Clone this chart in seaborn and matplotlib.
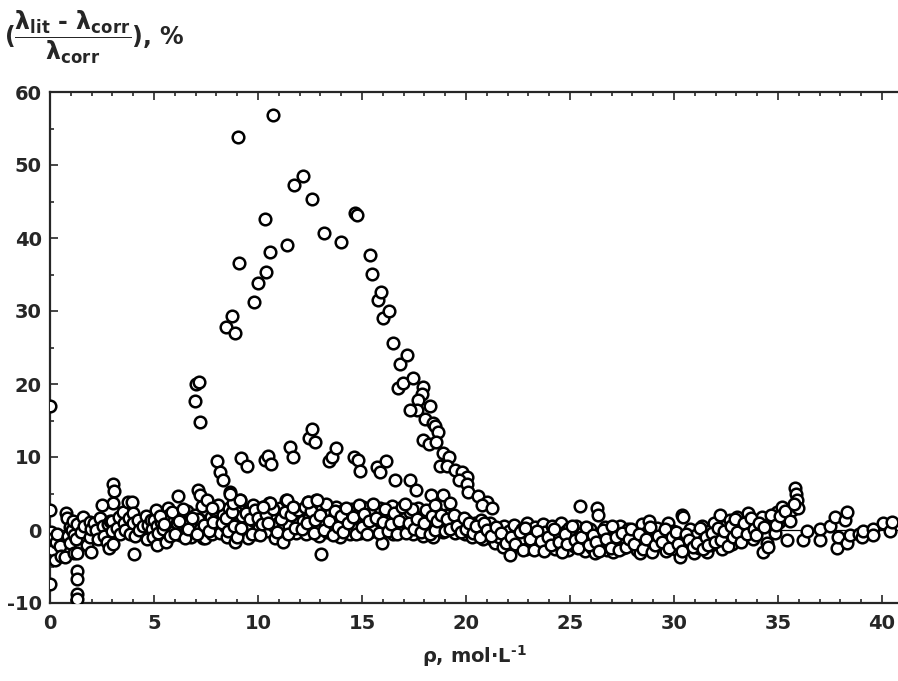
import matplotlib
matplotlib.use("Agg")
import matplotlib.pyplot as plt
from matplotlib.ticker import MultipleLocator
import seaborn as sns
import pandas as pd

# ---------------- data ----------------
upper_rho = [6.97, 7.02, 7.18, 7.21, 8.46, 8.73, 8.89, 9.02, 9.10, 9.81, 10.02, 10.32, 10.38,
             10.58, 10.74, 11.38, 11.73, 12.18, 12.61, 13.17, 13.98, 14.65, 14.78, 15.38, 15.46,
             15.75, 15.91, 16.02, 16.30, 16.50, 16.83, 17.18, 16.75, 16.99, 17.47, 17.95, 17.87,
             17.71, 18.27, 17.66, 17.31, 18.03, 18.43, 18.51, 18.67, 17.95, 18.24, 18.56, 18.91,
             19.20, 18.75, 19.07, 19.47, 19.79, 20.06, 19.68, 20.03, 20.11, 20.59, 21.02, 20.75,
             21.23]
upper_dev = [17.7, 20.0, 20.3, 14.8, 27.8, 29.3, 27.0, 53.9, 36.6, 31.2, 33.8, 42.6, 35.3,
             38.1, 56.9, 39.0, 47.2, 48.5, 45.4, 40.7, 39.5, 43.4, 43.1, 37.7, 35.1,
             31.5, 32.6, 29.1, 30.0, 25.6, 22.8, 24.0, 19.5, 20.1, 20.8, 19.6, 18.6,
             17.8, 17.0, 16.5, 16.4, 15.2, 14.6, 14.2, 13.4, 12.3, 11.8, 12.1, 10.5,
             10.0, 8.8, 8.7, 8.2, 8.0, 7.2, 6.8, 6.3, 5.2, 4.6, 3.9, 3.4,
             3.0]

middle_rho = [6.17, 7.13, 7.21, 7.53, 7.77, 8.01, 8.17, 8.33, 8.65, 8.81, 9.13, 9.17, 9.46,
              10.34, 10.50, 10.61, 11.54, 11.70, 12.47, 12.58, 12.74, 13.43, 13.54, 13.75, 14.62,
              14.82, 14.90, 15.70, 15.87, 16.15, 16.59, 17.31, 17.60, 17.07, 18.30, 18.90, 19.23,
              18.50, 12.42, 12.82, 11.38, 11.70, 10.58, 10.26, 8.65]
middle_dev = [4.6, 5.5, 4.8, 4.1, 3.0, 9.4, 8.0, 6.9, 5.2, 3.7, 4.1, 9.8, 8.7,
              9.6, 10.1, 9.1, 11.4, 10.0, 12.6, 13.8, 12.1, 9.5, 10.0, 11.3, 10.0,
              9.6, 8.1, 8.6, 7.9, 9.5, 6.8, 6.8, 5.5, 3.6, 4.8, 4.8, 3.7,
              3.4, 3.9, 4.1, 4.1, 3.2, 3.7, 3.2, 5.0]

outlier_rho = [0.0, 0.0, 0.0, 1.28, 1.28, 1.28, 1.28, 4.05, 13.05, 3.04, 3.10, 3.04, 2.48]
outlier_dev = [17.0, 2.8, -7.4, -5.6, -6.7, -8.7, -9.5, -3.3, -3.3, 6.3, 5.3, 3.7, 3.4]

band_rho = [
    0.05, 0.10, 0.15, 0.25, 0.30, 0.35, 0.50, 0.55, 0.70, 0.75, 0.80, 0.85, 0.95, 0.95,
    1.05, 1.10, 1.15, 1.15, 1.25, 1.30, 1.30, 1.50, 1.60, 1.65, 1.80, 1.90, 1.90, 1.95, 1.95,
    2.10, 2.20, 2.30, 2.40, 2.55, 2.60, 2.75, 2.85, 2.80, 2.90, 3.00, 3.00,
    3.05, 3.20, 3.30, 3.35, 3.50, 3.55, 3.60, 3.75, 3.80, 3.85, 3.95, 4.00, 4.00,
    4.10, 4.25, 4.30, 4.45, 4.60, 4.65, 4.70, 4.85, 4.90, 4.95, 5.00, 5.10,
    5.15, 5.20, 5.15, 5.35, 5.45, 5.60, 5.65, 5.70, 5.80, 5.90, 5.95,
    6.05, 6.10, 6.25, 6.30, 6.45, 6.55, 6.60, 6.70, 6.80, 6.90, 6.95,
    7.10, 7.20, 7.35, 7.45, 7.50, 7.60, 7.75, 7.80, 7.90, 7.95,
    8.05, 8.15, 8.30, 8.40, 8.50, 8.60, 8.70, 8.80, 8.90, 8.95,
    9.05, 9.15, 9.25, 9.35, 9.50, 9.55, 9.65, 9.75, 9.80, 9.90, 9.95,
    10.05, 10.15, 10.25, 10.30, 10.45, 10.55, 10.60, 10.75, 10.80, 10.85, 10.95,
    11.05, 11.15, 11.20, 11.35, 11.40, 11.50, 11.70, 11.75, 11.85, 11.95,
    12.05, 12.15, 12.30, 12.40, 12.45, 12.60, 12.80, 12.85, 12.90, 12.95,
    13.10, 13.20, 13.30, 13.45, 13.50, 13.65, 13.75, 13.80, 13.94, 13.95,
    14.05, 14.15, 14.30, 14.40, 14.50, 14.60, 14.75, 14.80, 14.90, 14.95,
    15.05, 15.15, 15.30, 15.40, 15.50, 15.60, 15.75, 15.85, 15.94, 15.95,
    16.05, 16.15, 16.30, 16.45, 16.50, 16.60, 16.75, 16.85, 16.95,
    17.05, 17.20, 17.30, 17.45, 17.55, 17.70, 17.80, 17.90, 17.95,
    18.05, 18.15, 18.30, 18.43, 18.55, 18.65, 18.75, 18.90, 18.95,
    19.05, 19.20, 19.30, 19.45, 19.60, 19.70, 19.85, 19.95,
    20.05, 20.20, 20.30, 20.45, 20.55, 20.70, 20.80, 20.90,
    21.05, 21.15, 21.30, 21.39, 21.50, 21.60, 21.79, 21.85, 21.95,
    22.05, 22.10, 22.20, 22.30, 22.45, 22.55, 22.70, 22.80, 22.90, 22.95,
    23.05, 23.20, 23.30, 23.45, 23.55, 23.70, 23.80, 23.90,
    24.05, 24.15, 24.30, 24.40, 24.55, 24.65, 24.80, 24.90, 24.95,
    25.05, 25.20, 25.30, 25.45, 25.48, 25.60, 25.70, 25.85, 25.95,
    26.05, 26.20, 26.28, 26.36, 26.45, 26.55, 26.70, 26.80, 26.90,
    27.08, 27.15, 27.30, 27.40, 27.55, 27.65, 27.80, 27.90,
    28.05, 28.20, 28.37, 28.45, 28.55, 28.70, 28.80, 28.90,
    29.05, 29.20, 29.30, 29.45, 29.60, 29.70, 29.85, 29.95,
    30.05, 30.29, 30.37, 30.45, 30.55, 30.65, 30.75, 30.85, 30.95,
    31.05, 31.20, 31.35, 31.45, 31.57, 31.70, 31.80, 31.90,
    32.05, 32.21, 32.30, 32.45, 32.55, 32.70, 32.80, 32.90,
    33.01, 33.10, 33.25, 33.40, 33.57, 33.65, 33.80, 33.90,
    34.05, 34.22, 34.29, 34.46, 34.53, 34.60, 34.78, 34.85, 34.95,
    35.05, 35.18, 35.26, 35.42, 35.50, 35.66, 35.82, 35.87, 35.90, 35.98,
    36.22, 36.38, 37.02, 37.02, 37.50, 37.74, 37.82, 37.90, 38.22, 38.30, 38.30, 38.46,
    38.90, 39.02, 39.10, 39.58, 39.58, 40.06, 40.38, 40.46]
band_dev = [
    -0.3, -1.2, -2.7, -4.1, -1.6, -0.6, -2.2, -3.5, -3.7, 2.3, 1.6, -0.8, 0.4, -1.8,
    0.0, 1.2, -0.7, -3.2, -1.2, 0.8, -3.2, -0.3, 1.8, 0.6, -2.0, 1.1, -0.9, -3.0, 0.2,
    1.0, 0.0, -1.2, 1.6, 0.5, -0.8, -1.6, -2.5, 0.8, 1.3, 1.2, -0.2,
    -1.9, 0.3, 1.8, -0.6, 2.5, 0.9, 0.0, 3.9, 1.6, -0.5, 3.9, 2.3, 0.9,
    -0.8, 1.4, 0.0, 0.5, 1.9, -1.2, 0.7, 1.4, 0.2, -1.0, 1.4, 2.7,
    0.6, -0.4, -2.1, 1.1, 0.1, -1.6, 3.0, 2.0, 0.5, -0.3, 1.3,
    2.2, 0.9, -0.7, 1.7, 0.4, -0.2, 2.6, 1.1, -0.9, 0.6, 2.0,
    1.5, 0.2, -1.1, -1.1, 2.8, 0.8, 1.8, -0.5, 0.3, 2.6,
    1.2, -0.4, 2.0, 0.6, -0.9, 3.0, 1.4, 0.1, -1.6, 2.4,
    0.9, 4.1, 1.9, -0.3, -1.1, 2.8, 0.6, 3.4, 1.2, -0.6, 2.1,
    0.3, 2.6, 3.2, 1.1, -0.2, 3.7, 1.8, 0.5, -1.1, 2.1, 1.0,
    3.0, 0.2, -1.6, 4.1, 1.6, 0.6, 3.2, 1.9, -0.4, 0.9,
    2.4, 1.3, -0.6, 3.9, 1.6, 0.4, 4.1, 2.2, 0.8, -0.8,
    3.0, 1.1, -0.3, 2.2, 0.7, 1.8, 3.2, -0.2, -0.9, 1.2,
    2.6, 0.5, 1.7, -0.6, 2.9, 1.0, 0.2, 2.2, -0.4, 1.5,
    3.1, 0.8, 1.9, -0.3, 2.4, 0.6, 1.4, 3.0, -1.8, 0.9,
    2.0, 0.1, 1.3, 3.3, -0.6, 1.9, 0.7, 2.6, -0.2,
    1.6, 0.4, 2.4, -0.5, 1.1, 3.0, 0.2, 1.8, -0.8,
    2.2, 0.6, 1.4, -0.9, 2.6, 0.3, 1.6, -0.3, 1.0,
    2.0, 0.5, 1.2, -0.4, 1.7, 0.2, 1.0, -0.6,
    1.3, 0.1, -0.9, 0.9, -0.3, 1.4, -1.2, 0.4,
    -0.6, 0.9, -1.4, -1.8, 0.1, -0.9, -2.3, 0.6, -1.2,
    -0.2, -3.4, -1.6, 0.7, -0.8, -2.2, 0.2, -1.3, -2.6, 0.9,
    -0.5, -1.8, 0.4, -2.4, -1.0, 0.8, -0.3, -2.0,
    -1.3, 0.5, -2.6, -0.7, 1.0, -1.7, -0.1, -2.8, 0.3,
    -1.0, -2.2, 0.6, -1.5, 3.3, -0.4, -2.9, -1.2, 0.2,
    -2.4, -3.2, 3.0, 2.0, -0.8, -1.9, 0.4, -2.7, -1.1,
    -3.0, -0.5, -1.8, 0.6, -2.5, -1.2, 0.1, -2.1,
    -0.9, -2.8, -3.2, 0.8, -1.6, -0.3, 1.2, -2.4,
    -1.1, 0.3, -2.0, -0.6, -2.9, 0.9, -1.5, -0.2,
    -2.6, -3.7, 2.0, 1.8, -1.0, -2.2, 0.2, -1.6, -3.1,
    -0.7, -2.4, 0.5, -1.3, -3.0, -0.1, -2.0, 1.0,
    -1.1, 2.0, -2.6, 0.6, -0.6, 1.4, -1.9, 0.2,
    1.8, -0.9, 1.0, -0.3, 2.3, 0.5, -1.2, 1.3,
    0.2, 1.8, -3.0, -1.8, -2.3, 0.9, 1.6, -0.4, 2.4,
    1.1, 3.2, 1.8, -1.4, 2.6, 2.7, 5.7, 5.0, 4.1, 3.0,
    -1.4, -0.2, -1.4, 0.2, 0.6, 1.8, -2.5, -0.9, 1.4, 2.5, -1.8, -0.7,
    -0.5, -0.9, -0.2, 0.2, -0.7, 0.9, -0.2, 1.1]

# additional points of the dense band (rho, deviation)
band_extra = [
    (5.30, 1.9), (5.50, 0.8), (5.75, -0.8), (5.85, 2.4), (6.00, -0.5), (6.20, 1.3),
    (6.40, 2.9), (6.50, -1.1), (6.65, 0.2), (6.85, 1.6), (7.05, -0.6), (7.30, 3.3),
    (7.40, 0.7), (7.65, -0.2), (7.85, 1.1), (8.10, 3.4), (8.25, 0.9), (8.45, 1.7),
    (8.55, -0.2), (8.75, 2.4), (8.85, 0.6), (9.00, -0.9), (9.20, 0.3), (9.40, 2.3),
    (9.60, 1.5), (9.70, -0.5), (9.85, 2.7), (10.00, 1.6), (10.10, -0.7), (10.20, 0.8),
    (10.40, 2.2), (10.50, 0.9), (10.70, 2.9), (10.90, -0.3), (11.10, 1.5), (11.30, 2.5),
    (11.45, -0.6), (11.60, 2.0), (11.80, 0.3), (11.90, 2.8), (12.10, 0.2), (12.25, 3.1),
    (12.35, 1.0), (12.55, 2.6), (12.70, -0.4), (12.75, 1.4), (13.00, 2.0), (13.15, 0.0),
    (13.25, 3.6), (13.40, 1.3), (13.60, -0.7), (13.70, 2.6), (13.85, 0.4), (14.00, 1.9),
    (14.10, -0.3), (14.25, 3.0), (14.35, 0.9), (14.55, 1.8), (14.70, -0.5), (14.85, 3.4),
    (15.00, 0.4), (15.10, 2.2), (15.25, -0.6), (15.35, 1.2), (15.55, 3.6), (15.65, 1.7),
    (15.80, -0.4), (16.00, 1.1), (16.10, 2.9), (16.25, -0.2), (16.40, 0.8), (16.55, 2.3),
    (16.70, -0.5), (16.80, 1.3), (16.90, 3.1), (17.10, -0.4), (17.25, 1.0), (17.40, 2.9),
    (17.50, 0.1), (17.65, 1.5), (17.85, -0.3), (18.00, 0.9), (18.10, 2.7), (18.25, -0.6),
    (18.35, 1.9), (18.50, 0.0), (18.60, 1.2), (18.80, 2.1), (19.00, -0.2), (19.10, 1.5),
    (19.25, 0.1), (19.40, 2.0), (19.55, 0.6), (19.75, -0.3), (19.90, 1.6), (20.00, 0.2),
    (20.15, 1.0), (20.35, -0.4), (20.50, 0.5), (20.65, -1.0), (20.85, 0.9), (21.00, 0.0),
    (21.20, -0.8), (21.45, 0.4), (21.70, -0.4), (21.90, -1.8),
    (22.15, -0.9), (22.35, -1.9), (22.60, -0.3), (22.75, -2.8), (22.85, 0.3), (23.10, -1.2),
    (23.25, -2.7), (23.40, -0.1), (23.60, -1.5), (23.75, -2.9), (23.95, -0.9), (24.10, -2.0),
    (24.25, 0.2), (24.45, -1.6), (24.60, -3.0), (24.75, -0.6), (24.85, -1.9), (25.10, 0.5),
    (25.25, -1.4), (25.40, -2.5), (25.55, -0.9), (25.75, 0.4), (25.90, -2.0), (26.10, -0.7),
    (26.25, -1.6), (26.40, -2.9), (26.60, 0.0), (26.75, -1.3), (26.95, -2.4), (27.00, 0.5),
    (27.20, -1.0), (27.35, -2.7), (27.50, -0.4), (27.70, -2.3), (27.85, -1.2), (27.95, 0.2),
    (28.10, -1.9), (28.30, -0.6), (28.50, -2.6), (28.65, -1.3), (28.85, 0.4), (28.95, -3.0),
    (29.10, -2.0), (29.25, -0.8), (29.40, -1.7), (29.55, 0.2), (29.75, -2.5), (29.90, -1.0),
    (30.10, -0.3), (30.20, -1.9), (30.40, -2.9), (30.60, -0.5), (30.70, -1.4), (30.90, -2.3),
    (31.10, -1.8), (31.25, 0.3), (31.40, -2.6), (31.55, -1.0), (31.65, -2.1), (31.85, -0.4),
    (31.95, -1.6), (32.10, 0.3), (32.25, -1.4), (32.40, -0.2), (32.60, -2.2), (32.75, 0.6),
    (32.85, -1.0), (32.95, 1.5), (33.05, -0.3), (33.20, -1.6), (33.35, 0.9), (33.50, -0.5),
    (33.70, 1.7), (33.85, 0.2), (33.95, -0.7), (34.10, 1.0), (34.35, 0.4), (34.65, 2.0),
    (34.90, 0.7), (35.10, 1.9), (35.35, 2.6), (35.60, 1.2), (35.75, 3.6)]

x_ticks = [0, 5, 10, 15, 20, 25, 30, 35, 40]
y_ticks = [-10, 0, 10, 20, 30, 40, 50, 60]

extra_rho = [p[0] for p in band_extra]
extra_dev = [p[1] for p in band_extra]

df = pd.DataFrame({
    "rho": band_rho + extra_rho + middle_rho + upper_rho + outlier_rho,
    "dev": band_dev + extra_dev + middle_dev + upper_dev + outlier_dev,
})

# ---------------- style ----------------
sns.set_style("ticks")
plt.rcParams["font.family"] = ["DejaVu Sans"]
plt.rcParams["font.weight"] = "bold"
plt.rcParams["axes.unicode_minus"] = False
plt.rcParams["mathtext.fontset"] = "custom"
plt.rcParams["mathtext.rm"] = "DejaVu Sans:bold"
plt.rcParams["mathtext.it"] = "DejaVu Sans:bold"
plt.rcParams["mathtext.bf"] = "DejaVu Sans:bold"
plt.rcParams["mathtext.sf"] = "DejaVu Sans:bold"

fig = plt.figure(figsize=(8.98, 6.81), dpi=100)
ax = fig.add_axes([50 / 898, 1 - 603 / 681, 1 - 50 / 898, (603 - 92) / 681])

ax.axhline(0, color="black", lw=0.9, zorder=1)
sns.scatterplot(data=df, x="rho", y="dev", ax=ax, marker="o", s=70,
                facecolor="white", edgecolor="black", linewidth=1.8, zorder=3,
                legend=False)

ax.set_xlim(0, 40.77)
ax.set_ylim(-10, 60)
ax.set_xticks(x_ticks)
ax.set_yticks(y_ticks)
ax.xaxis.set_minor_locator(MultipleLocator(1))
ax.yaxis.set_minor_locator(MultipleLocator(5))
ax.tick_params(which="both", direction="in", top=True, right=False,
               width=1.2, labelsize=14)
ax.tick_params(which="major", length=6, pad=6)
ax.tick_params(which="minor", length=3)
ax.tick_params(axis="x", pad=8)
for lab in ax.get_xticklabels() + ax.get_yticklabels():
    lab.set_fontweight("bold")

for side in ["left", "bottom", "top"]:
    ax.spines[side].set_linewidth(1.6)
ax.spines["right"].set_visible(False)

ax.set_xlabel("ρ, mol·L$^{\u20101}$", fontsize=14, fontweight="bold", labelpad=7)
ax.set_ylabel("")

fig.text(0.004, 0.946,
         "$(\\dfrac{\\lambda_{lit}\\ \u2010\\ \\lambda_{corr}}{\\lambda_{corr}})$, %",
         fontsize=17, fontweight="bold", ha="left", va="center")

fig.savefig("out.png", dpi=100)
